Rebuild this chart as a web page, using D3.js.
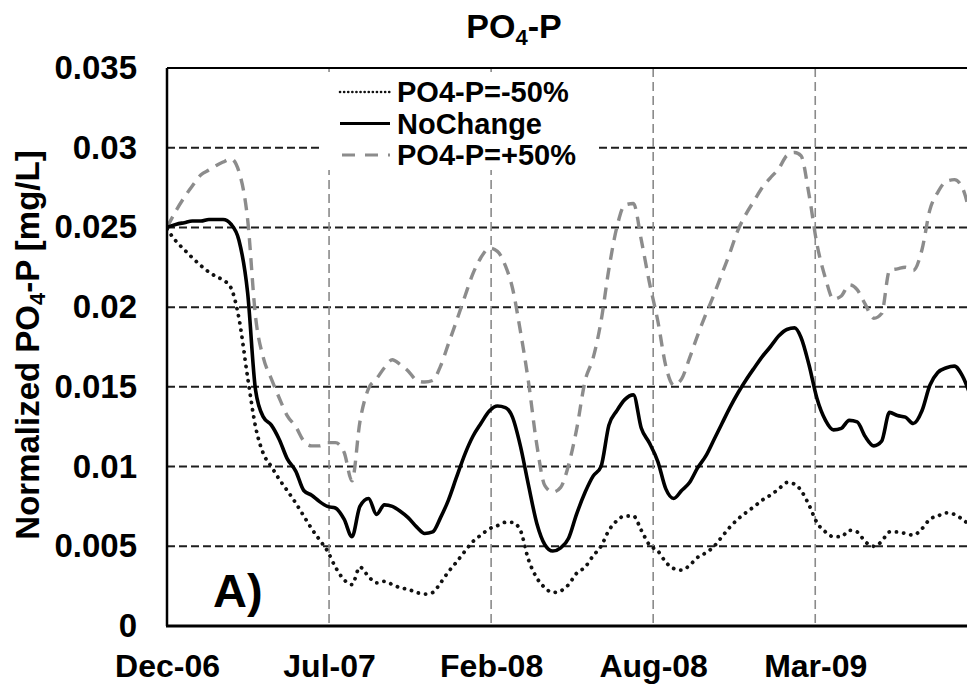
<!DOCTYPE html>
<html>
<head>
<meta charset="utf-8">
<script src="https://cdnjs.cloudflare.com/ajax/libs/d3/7.8.5/d3.min.js"></script>
<style>
    body { margin: 0; background: #fff; }
    #chart-area svg { display: block; font-family: "Liberation Sans", Arial, sans-serif; font-weight: bold; }
</style>
</head>
<body>
<div id="chart-area"></div>
<script>
// sample dates, roughly every 10 days
const dates = ["2006-12-20","2007-01-01","2007-01-11","2007-01-21","2007-02-01","2007-02-11","2007-02-21","2007-03-01","2007-03-11","2007-03-21",
    "2007-04-01","2007-04-11","2007-04-21","2007-05-01","2007-05-11","2007-05-21","2007-06-01","2007-06-11","2007-06-21","2007-07-01",
    "2007-07-11","2007-07-21","2007-08-01","2007-08-11","2007-08-21","2007-09-01","2007-09-11","2007-09-21","2007-10-01","2007-10-11",
    "2007-10-21","2007-11-01","2007-11-11","2007-11-21","2007-12-01","2007-12-11","2007-12-21","2008-01-01","2008-01-11","2008-01-21",
    "2008-02-01","2008-02-11","2008-02-21","2008-03-01","2008-03-11","2008-03-21","2008-04-01","2008-04-11","2008-04-21","2008-05-01",
    "2008-05-11","2008-05-21","2008-06-01","2008-06-11","2008-06-21","2008-07-01","2008-07-11","2008-07-21","2008-08-01","2008-08-11",
    "2008-08-21","2008-09-01","2008-09-11","2008-09-21","2008-10-01","2008-10-11","2008-10-21","2008-11-01","2008-11-11","2008-11-21",
    "2008-12-01","2008-12-11","2008-12-21","2009-01-01","2009-01-11","2009-01-21","2009-02-01","2009-02-11","2009-02-21","2009-03-01",
    "2009-03-11","2009-03-21","2009-04-01","2009-04-11","2009-04-21","2009-05-01","2009-05-11","2009-05-21","2009-06-01","2009-06-11",
    "2009-06-21","2009-07-01","2009-07-11","2009-07-21","2009-08-01","2009-08-11","2009-08-21","2009-09-01","2009-09-11","2009-09-21",
    "2009-10-01"];

// PO4-P = -50%
const minus50 = [0.0249,0.0241,0.0236,0.0231,0.0226,0.0222,0.0219,0.0217,0.0212,0.0193,
    0.0156,0.0125,0.0108,0.0100,0.0092,0.0085,0.0077,0.0069,0.0061,0.0054,
    0.0047,0.0037,0.0029,0.0026,0.0037,0.0031,0.0027,0.0028,0.0026,0.0024,
    0.0023,0.0021,0.0020,0.0021,0.0027,0.0034,0.0040,0.0047,0.0053,0.0057,
    0.0061,0.0063,0.0065,0.0065,0.0060,0.0042,0.0030,0.0024,0.0021,0.0022,
    0.0026,0.0033,0.0037,0.0044,0.0050,0.0060,0.0066,0.0069,0.0069,0.0060,
    0.0051,0.0047,0.0040,0.0036,0.0035,0.0038,0.0043,0.0046,0.0050,0.0056,
    0.0062,0.0067,0.0071,0.0075,0.0079,0.0082,0.0086,0.0090,0.0089,0.0085,
    0.0076,0.0065,0.0059,0.0056,0.0056,0.0060,0.0059,0.0053,0.0050,0.0053,
    0.0059,0.0059,0.0058,0.0057,0.0061,0.0067,0.0069,0.0071,0.0070,0.0067,
    0.0063];

// NoChange
const noChange = [0.0250,0.0252,0.0253,0.0254,0.0254,0.0255,0.0255,0.0255,0.0252,0.0242,
    0.0209,0.0148,0.0131,0.0126,0.0117,0.0105,0.0097,0.0085,0.0082,0.0078,
    0.0075,0.0074,0.0067,0.0056,0.0075,0.0080,0.0070,0.0076,0.0075,0.0072,
    0.0068,0.0062,0.0058,0.0059,0.0068,0.0079,0.0093,0.0108,0.0119,0.0127,
    0.0135,0.0138,0.0137,0.0131,0.0113,0.0089,0.0064,0.0051,0.0047,0.0049,
    0.0055,0.0070,0.0084,0.0094,0.0100,0.0126,0.0135,0.0142,0.0145,0.0124,
    0.0115,0.0103,0.0086,0.0080,0.0085,0.0090,0.0099,0.0107,0.0117,0.0127,
    0.0137,0.0146,0.0154,0.0162,0.0169,0.0175,0.0182,0.0186,0.0187,0.0181,
    0.0164,0.0143,0.0129,0.0123,0.0124,0.0129,0.0128,0.0119,0.0113,0.0116,
    0.0134,0.0132,0.0131,0.0127,0.0135,0.0151,0.0159,0.0162,0.0163,0.0157,
    0.0145];

// PO4-P = +50%
const plus50 = [0.0250,0.0261,0.0269,0.0276,0.0283,0.0286,0.0289,0.0291,0.0293,0.0285,
    0.0255,0.0194,0.0168,0.0155,0.0143,0.0132,0.0125,0.0116,0.0113,0.0113,
    0.0115,0.0115,0.0109,0.0091,0.0128,0.0149,0.0155,0.0162,0.0167,0.0164,
    0.0160,0.0154,0.0153,0.0154,0.0163,0.0177,0.0191,0.0207,0.0221,0.0231,
    0.0237,0.0235,0.0226,0.0212,0.0185,0.0154,0.0113,0.0088,0.0084,0.0087,
    0.0101,0.0123,0.0154,0.0168,0.0191,0.0224,0.0250,0.0264,0.0265,0.0242,
    0.0216,0.0191,0.0163,0.0151,0.0155,0.0168,0.0182,0.0196,0.0208,0.0221,
    0.0234,0.0248,0.0258,0.0267,0.0275,0.0281,0.0287,0.0295,0.0297,0.0295,
    0.0271,0.0240,0.0218,0.0205,0.0207,0.0214,0.0211,0.0202,0.0193,0.0196,
    0.0223,0.0224,0.0225,0.0223,0.0236,0.0261,0.0272,0.0279,0.0280,0.0275,
    0.0258];

const seriesNames = ["PO4-P=-50%", "NoChange", "PO4-P=+50%"];
const xTickDates = ["2006-12-20", "2007-07-13", "2008-02-03", "2008-08-26", "2009-03-19"];
const yTicks = [0, 0.005, 0.01, 0.015, 0.02, 0.025, 0.03, 0.035];

class PhosphateChart {
    constructor(_parentElement) {
        this.parentElement = _parentElement;
        this.initVis();
    }

    initVis() {
        let vis = this;

        vis.width = 967;
        vis.height = 687;
        // plot box, the right edge runs off the picture
        vis.margin = { top: 68, left: 167, bottom: 626, right: 986 };

        vis.svg = d3.select("#" + vis.parentElement)
            .append("svg")
            .attr("width", vis.width)
            .attr("height", vis.height)
            .style("overflow", "hidden");

        vis.parseDate = d3.timeParse("%Y-%m-%d");

        vis.x = d3.scaleTime()
            .domain([vis.parseDate("2006-12-20"), vis.parseDate("2009-10-21")])
            .range([vis.margin.left, vis.margin.right]);

        vis.y = d3.scaleLinear()
            .domain([0, 0.035])
            .range([vis.margin.bottom, vis.margin.top]);

        vis.svg.append("defs").append("clipPath")
            .attr("id", "plot-clip")
            .append("rect")
            .attr("x", vis.margin.left)
            .attr("y", vis.margin.top - 2)
            .attr("width", vis.margin.right - vis.margin.left)
            .attr("height", vis.margin.bottom - vis.margin.top + 4);

        vis.wrangleData();
    }

    wrangleData() {
        let vis = this;

        let cols = [minus50, noChange, plus50];
        vis.displayData = seriesNames.map((name, i) => ({
            name: name,
            values: dates.map((d, j) => ({ date: vis.parseDate(d), value: cols[i][j] }))
        }));

        vis.updateVis();
    }

    updateVis() {
        let vis = this;
        let m = vis.margin;

        // styles per series
        let styles = {
            "PO4-P=-50%": { stroke: "#111", width: 3.8, dash: "0.1 7.2", cap: "round", legendDash: "0.1 4", legendWidth: 2.6 },
            "NoChange": { stroke: "#000", width: 3.6, dash: null, cap: "butt", legendDash: null, legendWidth: 3.2 },
            "PO4-P=+50%": { stroke: "#8c8c8c", width: 3.4, dash: "12 8", cap: "butt", legendDash: "13 10", legendWidth: 3.2 }
        };

        // horizontal gridlines
        vis.svg.append("g")
            .selectAll("line")
            .data(yTicks.filter(d => d > 0 && d < 0.035))
            .join("line")
            .attr("x1", m.left)
            .attr("x2", m.right)
            .attr("y1", d => vis.y(d))
            .attr("y2", d => vis.y(d))
            .attr("stroke", "#1e1e1e")
            .attr("stroke-width", 2)
            .attr("stroke-dasharray", "8 4");

        // vertical gridlines
        vis.svg.append("g")
            .selectAll("line")
            .data(xTickDates.slice(1))
            .join("line")
            .attr("x1", d => vis.x(vis.parseDate(d)))
            .attr("x2", d => vis.x(vis.parseDate(d)))
            .attr("y1", m.top)
            .attr("y2", m.bottom)
            .attr("stroke", "#8a8a8a")
            .attr("stroke-width", 1.6)
            .attr("stroke-dasharray", "9 5");

        // series
        let line = d3.line()
            .x(d => vis.x(d.date))
            .y(d => vis.y(d.value))
            .curve(d3.curveMonotoneX);

        vis.svg.append("g")
            .attr("clip-path", "url(#plot-clip)")
            .selectAll("path")
            .data(vis.displayData.slice().reverse())
            .join("path")
            .attr("d", d => line(d.values))
            .attr("fill", "none")
            .attr("stroke", d => styles[d.name].stroke)
            .attr("stroke-width", d => styles[d.name].width)
            .attr("stroke-dasharray", d => styles[d.name].dash)
            .attr("stroke-linecap", d => styles[d.name].cap)
            .attr("stroke-linejoin", "round");

        // frame: top border, left and bottom axis lines
        vis.svg.append("line")
            .attr("x1", m.left).attr("x2", m.right)
            .attr("y1", m.top).attr("y2", m.top)
            .attr("stroke", "#000").attr("stroke-width", 2);
        vis.svg.append("line")
            .attr("x1", m.left).attr("x2", m.left)
            .attr("y1", m.top).attr("y2", m.bottom)
            .attr("stroke", "#000").attr("stroke-width", 2.5);
        vis.svg.append("line")
            .attr("x1", m.left - 1).attr("x2", m.right)
            .attr("y1", m.bottom).attr("y2", m.bottom)
            .attr("stroke", "#000").attr("stroke-width", 3);

        // axes (labels only)
        let yAxis = d3.axisLeft(vis.y)
            .tickValues(yTicks)
            .tickFormat(d => String(d))
            .tickSize(0)
            .tickPadding(30);

        vis.svg.append("g")
            .attr("transform", "translate(" + m.left + ",0)")
            .call(yAxis)
            .call(g => g.select(".domain").remove())
            .selectAll("text")
            .attr("font-family", "'Liberation Sans', Arial, sans-serif")
            .attr("font-weight", "bold")
            .attr("font-size", 33)
            .attr("fill", "#000");

        let xAxis = d3.axisBottom(vis.x)
            .tickValues(xTickDates.map(vis.parseDate))
            .tickFormat(d3.timeFormat("%b-%y"))
            .tickSize(0)
            .tickPadding(28);

        vis.svg.append("g")
            .attr("transform", "translate(0," + m.bottom + ")")
            .call(xAxis)
            .call(g => g.select(".domain").remove())
            .selectAll("text")
            .attr("font-family", "'Liberation Sans', Arial, sans-serif")
            .attr("font-weight", "bold")
            .attr("font-size", 32)
            .attr("fill", "#000");

        // legend
        let legend = vis.svg.append("g").attr("class", "legend");
        legend.append("rect")
            .attr("x", 322).attr("y", 72)
            .attr("width", 273).attr("height", 98)
            .attr("fill", "#fff");

        let items = legend.selectAll("g.item")
            .data(seriesNames)
            .join("g")
            .attr("class", "item")
            .attr("transform", (d, i) => "translate(340," + (92 + i * 31.5) + ")");

        items.append("line")
            .attr("x1", d => d === "PO4-P=+50%" ? 2 : 0)
            .attr("x2", 50)
            .attr("y1", 0).attr("y2", 0)
            .attr("stroke", d => styles[d].stroke)
            .attr("stroke-width", d => styles[d].legendWidth)
            .attr("stroke-dasharray", d => styles[d].legendDash)
            .attr("stroke-linecap", d => styles[d].cap);

        items.append("text")
            .attr("x", 57)
            .attr("y", 10)
            .attr("font-size", 29)
            .text(d => d);

        // title
        let title = vis.svg.append("text")
            .attr("x", 514)
            .attr("y", 38)
            .attr("text-anchor", "middle")
            .attr("font-size", 34);
        title.append("tspan").text("PO");
        title.append("tspan").attr("font-size", 22).attr("dy", 7).text("4");
        title.append("tspan").attr("dy", -7).text("-P");

        // y axis title
        let yTitle = vis.svg.append("text")
            .attr("transform", "translate(39,345) rotate(-90)")
            .attr("text-anchor", "middle")
            .attr("font-size", 33);
        yTitle.append("tspan").text("Normalized PO");
        yTitle.append("tspan").attr("font-size", 22).attr("dy", 6).text("4");
        yTitle.append("tspan").attr("dy", -6).text("-P [mg/L]");

        // panel label
        vis.svg.append("text")
            .attr("x", 213)
            .attr("y", 607)
            .attr("font-size", 47)
            .text("A)");
    }
}

new PhosphateChart("chart-area");
</script>
</body>
</html>
